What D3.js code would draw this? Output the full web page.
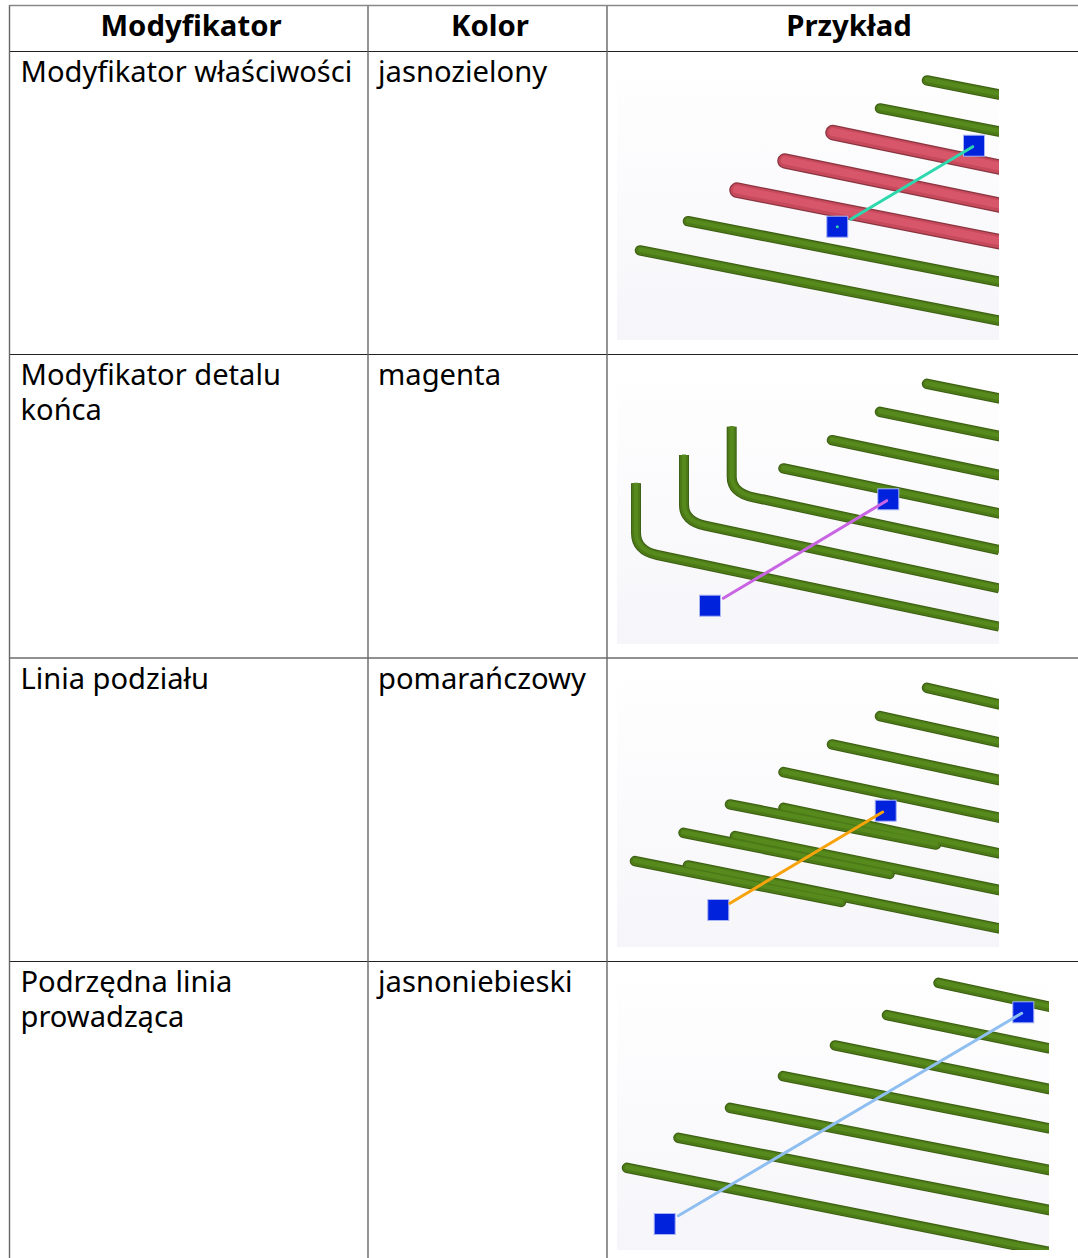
<!DOCTYPE html>
<html>
<head>
<meta charset="utf-8">
<script src="https://cdn.jsdelivr.net/npm/d3@7"></script>
<style>
html, body { margin: 0; padding: 0; background: #fff; overflow: hidden; }
text { font-family: "Noto Sans", sans-serif; fill: #000; }
</style>
</head>
<body>
<div id="chart"></div>
<script>
// table text
var headers = ["Modyfikator", "Kolor", "Przykład"];
var modifiers = [["Modyfikator właściwości"], ["Modyfikator detalu", "końca"], ["Linia podziału"], ["Podrzędna linia", "prowadząca"]];
var colorNames = ["jasnozielony", "magenta", "pomarańczowy", "jasnoniebieski"];

// bars, panel units: x0, y0, x1, y1
var panel1Green = [[310, 25.4, 382, 39.5], [263, 53.4, 382, 76.5], [71, 166.2, 382, 226.7], [23, 195.4, 382, 265.7]];
var panel1Red = [[216, 77.6, 382, 112], [168, 106, 382, 150], [120, 135.1, 382, 186.7]];
var panel2Green = [[310, 24.8, 382, 39.3], [263, 52.8, 382, 77], [215, 81.2, 382, 116], [166.5, 109.4, 382, 154.3]];
// bent bars: leg top, bend start, corner, bend end, far end
var panel2Bent = [
    [[114.7, 67.7], [114.7, 117.7], [114.7, 133.7], [136.3, 138.3], [382, 191]],
    [[67, 96], [67, 146], [67, 162], [88, 166.7], [382, 229.3]],
    [[19, 124.3], [19, 173.7], [19, 191.5], [40.3, 196], [382, 267.7]]
];
var panel3Green = [[310, 25.8, 382, 42.3], [263, 54.1, 382, 80.3], [215, 82.4, 382, 118], [166.5, 110.1, 382, 155.7],
    [166.5, 145.8, 382, 191.3], [118, 174.1, 382, 228], [71, 203.4, 382, 266.3],
    [113, 142.4, 319, 182.5], [66.5, 170.8, 272.5, 211.9], [18, 199.1, 224, 239.9]];
var panel4Green = [[321.5, 22.8, 432, 46.7], [270, 55.1, 432, 88.3], [218, 85.4, 432, 129], [166, 116.1, 432, 168.3],
    [113, 147.8, 432, 210], [61.5, 177.8, 432, 250], [10, 207.8, 432, 292]];

// lead line ends (x, y) and the handle squares
var leadStarts = [[355.7, 91.7], [269.7, 141.7], [265.7, 150], [404.7, 53.3]];
var leadEnds = [[233.7, 164.3], [106.3, 239.3], [113, 241.3], [61.3, 255.7]];
var handlesA = [[357, 90.7], [271.3, 140.3], [268.7, 148.7], [406.3, 52.3]];
var handlesB = [[220.3, 171.7], [93, 246.7], [101.3, 248], [47.7, 264]];
// the lead colour also shows as a dot inside the first panel's lower handle
var leadDots = [[[220.3, 171.7]], [], [], []];

var width = 1078, height = 1258;
var columnEdges = [9.5, 368, 607];
var rowEdges = [51.5, 354.5, 658, 961.5];
var rowBaselines = [81.5, 384.5, 689, 991.5];
var headerCentres = [191, 490, 849];

var panels = [
    {left: 617, top: 55, w: 382, h: 285, green: panel1Green, red: panel1Red, bent: []},
    {left: 617, top: 359, w: 382, h: 285, green: panel2Green, red: [], bent: panel2Bent},
    {left: 617, top: 662, w: 382, h: 285, green: panel3Green, red: [], bent: []},
    {left: 617, top: 960, w: 432, h: 290, green: panel4Green, red: [], bent: []}
];

var leadColour = d3.scaleOrdinal().domain(colorNames).range(["#2ed8ae", "#c965e3", "#f7a30c", "#8fbef0"]);

var svg = d3.select("#chart").append("svg")
        .attr("width", width)
        .attr("height", height)
        .style("display", "block");

var defs = svg.append("defs");
var grad = defs.append("linearGradient").attr("id", "panelBack").attr("x1", 0).attr("y1", 0).attr("x2", 0).attr("y2", 1);
grad.append("stop").attr("offset", "0").attr("stop-color", "#ffffff");
grad.append("stop").attr("offset", "1").attr("stop-color", "#f6f6fa");
defs.append("filter").attr("id", "soft")
        .append("feGaussianBlur").attr("stdDeviation", 0.6);

panels.forEach(function(panel, i){
    var x = d3.scaleLinear().domain([0, panel.w]).range([panel.left, panel.left + panel.w]);
    var y = d3.scaleLinear().domain([0, panel.h]).range([panel.top, panel.top + panel.h]);

    defs.append("clipPath").attr("id", "clip" + i)
        .append("rect")
        .attr("x", x(0)).attr("y", y(0))
        .attr("width", panel.w).attr("height", panel.h);

    svg.append("rect")
        .attr("x", x(0)).attr("y", y(0))
        .attr("width", panel.w).attr("height", panel.h)
        .attr("fill", "url(#panelBack)");

    var g = svg.append("g").attr("clip-path", "url(#clip" + i + ")");
    var marks = g.append("g").attr("filter", "url(#soft)");

    function barPath(d){
        return d3.line()([[x(d[0]), y(d[1])], [x(d[2]), y(d[3])]]);
    }

    function bentPath(d){
        var path = d3.path();
        path.moveTo(x(d[0][0]), y(d[0][1]));
        path.lineTo(x(d[1][0]), y(d[1][1]));
        path.quadraticCurveTo(x(d[2][0]), y(d[2][1]), x(d[3][0]), y(d[3][1]));
        path.lineTo(x(d[4][0]), y(d[4][1]));
        return path.toString();
    }

    // one tube is three strokes: dark rim, body, lit top
    function drawTubes(data, pathFn, colours, sizes, cap){
        sizes.forEach(function(size, s){
            marks.selectAll(null)
                .data(data)
                .enter()
                .append("path")
                .attr("d", pathFn)
                .attr("fill", "none")
                .attr("stroke", colours[s])
                .attr("stroke-width", size)
                .attr("stroke-linecap", cap)
                .attr("transform", s === 2 ? "translate(0,-0.6)" : null);
        });
    }

    drawTubes(panel.green, barPath, ["#3c5e12", "#4c7a18", "#568a1e"], [10.5, 8.5, 4.5], "round");
    drawTubes(panel.red, barPath, ["#8a3440", "#c64a5c", "#d8566a"], [15.5, 13, 8], "round");
    drawTubes(panel.bent, bentPath, ["#3c5e12", "#4c7a18", "#568a1e"], [10, 8, 4], "butt");

    var lead = colorNames[i];
    marks.selectAll(null)
        .data([handlesA[i], handlesB[i]])
        .enter()
        .append("rect")
        .attr("x", function(d){ return x(d[0]) - 10.5; })
        .attr("y", function(d){ return y(d[1]) - 10.5; })
        .attr("width", 21)
        .attr("height", 21)
        .attr("fill", "#0020dd")
        .attr("stroke", "#a8b4f4")
        .attr("stroke-width", 1);

    marks.append("path")
        .attr("d", d3.line()([[x(leadStarts[i][0]), y(leadStarts[i][1])], [x(leadEnds[i][0]), y(leadEnds[i][1])]]))
        .attr("stroke", leadColour(lead))
        .attr("stroke-width", 3)
        .attr("stroke-linecap", "round")
        .attr("fill", "none");

    marks.selectAll(null)
        .data(leadDots[i])
        .enter()
        .append("circle")
        .attr("cx", function(d){ return x(d[0]); })
        .attr("cy", function(d){ return y(d[1]); })
        .attr("r", 1.5)
        .attr("fill", leadColour(lead));
});

// grid lines, verticals come out softer than the rows in the reference
var lines = svg.append("g");
lines.selectAll(null)
    .data(rowEdges)
    .enter()
    .append("line")
    .attr("x1", columnEdges[0]).attr("x2", width)
    .attr("y1", function(d){ return d; }).attr("y2", function(d){ return d; })
    .attr("stroke", "#222")
    .attr("stroke-width", 1);
lines.selectAll(null)
    .data(columnEdges)
    .enter()
    .append("line")
    .attr("y1", 5).attr("y2", height)
    .attr("x1", function(d){ return d; }).attr("x2", function(d){ return d; })
    .attr("stroke", "#666")
    .attr("stroke-width", 1.4);
lines.append("line")
    .attr("x1", columnEdges[0]).attr("x2", width)
    .attr("y1", 5.5).attr("y2", 5.5)
    .attr("stroke", "#888")
    .attr("stroke-width", 1.6);

svg.selectAll("text.head")
    .data(headers)
    .enter()
    .append("text")
    .attr("class", "head")
    .attr("x", function(d, i){ return headerCentres[i]; })
    .attr("y", 36)
    .attr("text-anchor", "middle")
    .attr("font-size", 29.3)
    .attr("font-weight", "bold")
    .text(function(d){ return d; });

modifiers.forEach(function(rows, r){
    svg.selectAll(null)
        .data(rows)
        .enter()
        .append("text")
        .attr("x", 20.5)
        .attr("y", function(d, i){ return rowBaselines[r] + i * 35; })
        .attr("font-size", 29.1)
        .text(function(d){ return d; });
});

svg.selectAll("text.colour")
    .data(colorNames)
    .enter()
    .append("text")
    .attr("class", "colour")
    .attr("x", 378)
    .attr("y", function(d, i){ return rowBaselines[i]; })
    .attr("font-size", 29.2)
    .text(function(d){ return d; });
</script>
</body>
</html>
